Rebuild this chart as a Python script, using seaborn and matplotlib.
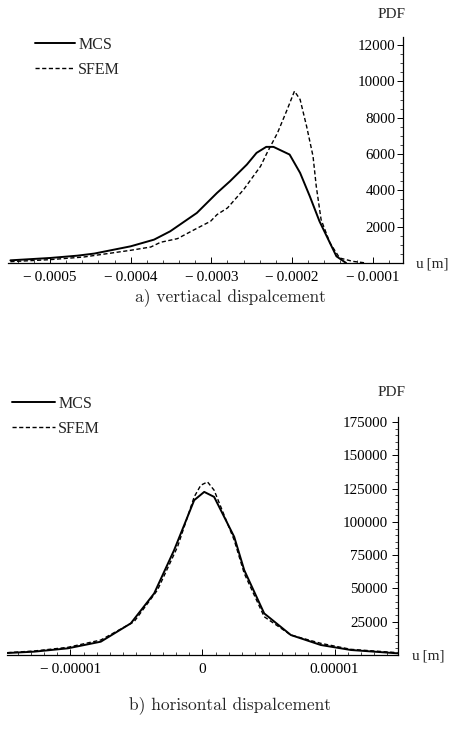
import matplotlib
matplotlib.use("Agg")
import matplotlib.pyplot as plt
import seaborn as sns
import pandas as pd
from matplotlib.ticker import MultipleLocator, FixedLocator

# ---------------- data ----------------
# (a) vertical displacement
v_mcs_x = [-0.000549, -0.0005, -0.000466, -0.000445, -0.0004, -0.000371, -0.000351, -0.000318,
           -0.000293, -0.000277, -0.000256, -0.000244, -0.000232, -0.000223, -0.000203, -0.00019,
           -0.000178, -0.000166, -0.000153, -0.000145, -0.000133]
v_mcs_y = [147, 276, 404, 520, 919, 1287, 1746, 2757, 3860, 4500, 5423, 6066, 6397, 6397, 5974, 4963,
           3676, 2298, 1103, 368, 0]
v_sfem_x = [-0.000549, -0.0005, -0.000458, -0.0004, -0.000375, -0.000363, -0.000342, -0.000321,
            -0.000301, -0.000293, -0.00028, -0.00026, -0.000239, -0.000231, -0.000218, -0.000206,
            -0.000197, -0.00019, -0.000182, -0.000174, -0.00017, -0.000164, -0.000153, -0.000141,
            -0.000125, -0.000108]
v_sfem_y = [74, 184, 331, 700, 882, 1140, 1342, 1838, 2298, 2665, 3033, 4044, 5331, 6066, 7169, 8456,
            9467, 9007, 7537, 5882, 4228, 2390, 1103, 276, 92, 0]

# (b) horizontal displacement
h_mcs_x = [-1.477e-5, -1.275e-5, -1.02e-5, -0.77e-5, -0.543e-5, -0.366e-5, -0.215e-5, -0.063e-5,
           0.013e-5, 0.088e-5, 0.24e-5, 0.316e-5, 0.467e-5, 0.669e-5, 0.896e-5, 1.124e-5, 1.477e-5]
h_mcs_y = [1500, 2500, 5000, 10000, 23750, 46250, 78750, 116250, 122500, 118750, 88750, 63750,
           31250, 15000, 7500, 3750, 1250]
h_sfem_x = [-1.477e-5, -1.275e-5, -1.02e-5, -0.77e-5, -0.518e-5, -0.341e-5, -0.189e-5, -0.063e-5,
            -0.013e-5, 0.038e-5, 0.088e-5, 0.24e-5, 0.316e-5, 0.467e-5, 0.669e-5, 0.896e-5,
            1.124e-5, 1.477e-5]
h_sfem_y = [1750, 3000, 5750, 11250, 25000, 48750, 81250, 118750, 127500, 130000, 123750, 86250,
            61250, 28750, 15000, 8750, 4250, 1750]

series_names = ["MCS", "SFEM"]

v_xticks = [-0.0005, -0.0004, -0.0003, -0.0002, -0.0001]
v_xticklabels = ["\u2212\u20090.0005", "\u2212\u20090.0004", "\u2212\u20090.0003",
                 "\u2212\u20090.0002", "\u2212\u20090.0001"]
v_yticks = [2000, 4000, 6000, 8000, 10000, 12000]
h_xticks = [-0.00001, 0, 0.00001]
h_xticklabels = ["\u2212\u20090.00001", "0", "0.00001"]
h_yticks = [25000, 50000, 75000, 100000, 125000, 150000, 175000]

caption_a = "a) vertiacal dispalcement"
caption_b = "b) horisontal dispalcement"

# ---------------- style ----------------
sns.set_theme(style="white")
plt.rcParams["font.family"] = ["Liberation Serif", "DejaVu Serif"]
plt.rcParams["axes.unicode_minus"] = True

fig = plt.figure(figsize=(4.5, 7.34), dpi=100)
W, H = 450, 734


def make_axes(l, r, top, bot):
    return fig.add_axes([l / W, 1 - bot / H, (r - l) / W, (bot - top) / H])


def style_axes(ax):
    for s in ("top", "right"):
        ax.spines[s].set_visible(False)
    ax.spines["left"].set_position(("axes", 1.0))
    for s in ("left", "bottom"):
        ax.spines[s].set_color("black")
        ax.spines[s].set_linewidth(0.9)
    ax.tick_params(axis="y", which="both", direction="out", left=True, color="black",
                   labelsize=10.8, labelcolor="black")
    ax.tick_params(axis="y", which="major", length=4, pad=1.5, width=0.7)
    ax.tick_params(axis="y", which="minor", length=2, width=0.5)
    ax.tick_params(axis="x", which="both", direction="in", bottom=True, color="black",
                   labelsize=11, labelcolor="black")
    ax.tick_params(axis="x", which="major", length=4, pad=6, width=0.7)
    ax.tick_params(axis="x", which="minor", length=2, width=0.5)
    ax.set_xlabel("")
    ax.set_ylabel("")
    ax.grid(False)


def draw(ax, xs1, ys1, xs2, ys2):
    d1 = pd.DataFrame({"x": xs1, "y": ys1})
    d2 = pd.DataFrame({"x": xs2, "y": ys2})
    sns.lineplot(data=d1, x="x", y="y", ax=ax, color="black", lw=1.4, label=series_names[0],
                 sort=False, estimator=None)
    sns.lineplot(data=d2, x="x", y="y", ax=ax, color="black", lw=1.0, label=series_names[1],
                 sort=False, estimator=None, dashes=False)
    ax.lines[1].set_dashes([3, 1.8])


def place_legend(ax, x, y, hl):
    leg = ax.legend(loc="upper left", bbox_to_anchor=(x / W, 1 - y / H),
                    bbox_transform=fig.transFigure, frameon=False, fontsize=11.5,
                    handlelength=hl, handletextpad=0.2, labelspacing=0.55, borderaxespad=0,
                    borderpad=0)
    leg.get_lines()[1].set_dashes([3, 1.8])
    return leg


# ---- top panel ----
ax1 = make_axes(8, 403, 37, 263)
draw(ax1, v_mcs_x, v_mcs_y, v_sfem_x, v_sfem_y)
ax1.set_xlim(-0.000552, -0.0000625)
ax1.set_ylim(0, 12450)
ax1.xaxis.set_major_locator(FixedLocator(v_xticks))
ax1.set_xticklabels(v_xticklabels)
ax1.xaxis.set_minor_locator(MultipleLocator(0.00002))
ax1.yaxis.set_major_locator(FixedLocator(v_yticks))
ax1.set_yticklabels([str(v) for v in v_yticks])
ax1.yaxis.set_minor_locator(MultipleLocator(500))
style_axes(ax1)
place_legend(ax1, 35, 37, 2.5)
fig.text(392 / W, 1 - 15 / H, "PDF", ha="center", va="center", fontsize=11)
fig.text(432 / W, 1 - 264 / H, "u\u2009[m]", ha="center", va="center", fontsize=11)
fig.text(230 / W, 1 - 297 / H, caption_a, ha="center", va="center", fontsize=12.5,
         family=["cmr10", "DejaVu Serif"])

# ---- bottom panel ----
ax2 = make_axes(7, 398, 417, 655)
draw(ax2, h_mcs_x, h_mcs_y, h_sfem_x, h_sfem_y)
ax2.set_xlim(-1.48e-5, 1.48e-5)
ax2.set_ylim(0, 178750)
ax2.xaxis.set_major_locator(FixedLocator(h_xticks))
ax2.set_xticklabels(h_xticklabels)
ax2.xaxis.set_minor_locator(MultipleLocator(1e-6))
ax2.yaxis.set_major_locator(FixedLocator(h_yticks))
ax2.set_yticklabels([str(v) for v in h_yticks])
ax2.yaxis.set_minor_locator(MultipleLocator(5000))
style_axes(ax2)
ax2.tick_params(axis="y", which="major", pad=3.5)
place_legend(ax2, 12, 396, 2.7)
fig.text(392 / W, 1 - 393 / H, "PDF", ha="center", va="center", fontsize=11)
fig.text(428 / W, 1 - 656 / H, "u\u2009[m]", ha="center", va="center", fontsize=11)
fig.text(230 / W, 1 - 705 / H, caption_b, ha="center", va="center", fontsize=12.5,
         family=["cmr10", "DejaVu Serif"])

fig.savefig("out.png", dpi=100, facecolor="white")
